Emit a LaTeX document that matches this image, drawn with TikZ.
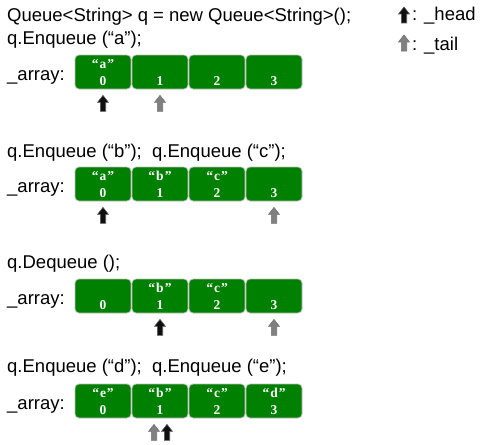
\documentclass[tikz,border=0pt]{standalone}
\usepackage{fontspec}
\setmainfont{Liberation Sans}
\newfontfamily\cellfont{Liberation Serif}
\usetikzlibrary{calc}
\definecolor{cellgreen}{RGB}{0,128,0}
\definecolor{cellborder}{RGB}{190,190,190}
\definecolor{tailgray}{RGB}{128,128,128}
\definecolor{headblack}{RGB}{15,15,15}
\newcommand\qv[1]{“\kern1pt#1\kern1pt”}
\newcommand\qrowcells[6]{%
  \foreach \i/\v in {0/{#3},1/{#4},2/{#5},3/{#6}} {%
    \node[cell] (#1c\i) at (103+57*\i,#2+17) {};
    \node[val] (#1v\i) at (103+57*\i,#2+13) {\v};
    \node[val] (#1n\i) at (103+57*\i,#2+30) {\i};
  }%
}
\begin{document}
\begin{tikzpicture}[x=1pt,y=-1pt,
  code/.style={anchor=base west,inner sep=0pt,font=\fontsize{18.5}{20}\selectfont},
  cell/.style={draw=cellborder,line width=0.8pt,fill=cellgreen,rounded corners=4pt,
    minimum width=56pt,minimum height=34pt,inner sep=0pt},
  val/.style={anchor=base,inner sep=0pt,text=white,font=\cellfont\bfseries\fontsize{13.5}{14}\selectfont},
  blockarrow/.style={line width=0.6pt,line join=miter},
  pics/headptr/.style={code={\draw[blockarrow,fill=headblack,draw=black!65]
    (-2.7,0) -- (-2.7,-9) -- (-5.5,-9) -- (0,-16) -- (5.5,-9) -- (2.7,-9) -- (2.7,0) -- cycle;}},
  pics/tailptr/.style={code={\draw[blockarrow,fill=tailgray,draw=black!55]
    (-2.7,0) -- (-2.7,-9) -- (-5.5,-9) -- (0,-16) -- (5.5,-9) -- (2.7,-9) -- (2.7,0) -- cycle;}},
]
\useasboundingbox (0,0) rectangle (494,444);

% legend
\pic (lh) at (404,23) {headptr};
\node[code] (lht) at (412,21) {: \_head};
\pic (lt) at (404,51) {tailptr};
\node[code] (ltt) at (412,50) {: \_tail};

% row 1
\node[code] (t0) at (7,22) {Queue<String> q = new Queue<String>();};
\node[code] (t1) at (7,45) {q.Enqueue (“a”);};
\node[code] (a1) at (7,80) {\_array:};
\qrowcells{ra}{55}{\qv{a}}{}{}{}
\pic (rah) at ($(rac0.south)+(0,22)$) {headptr};
\pic (rat) at ($(rac1.south)+(0,22)$) {tailptr};

% row 2
\node[code] (t2) at (7,157) {q.Enqueue (“b”);~ q.Enqueue (“c”);};
\node[code] (a2) at (7,192) {\_array:};
\qrowcells{rb}{167}{\qv{a}}{\qv{b}}{\qv{c}}{}
\pic (rbh) at ($(rbc0.south)+(0,22)$) {headptr};
\pic (rbt) at ($(rbc3.south)+(0,22)$) {tailptr};

% row 3
\node[code] (t3) at (7,268) {q.Dequeue ();};
\node[code] (a3) at (7,304) {\_array:};
\qrowcells{rc}{279}{}{\qv{b}}{\qv{c}}{}
\pic (rch) at ($(rcc1.south)+(0,22)$) {headptr};
\pic (rct) at ($(rcc3.south)+(0,22)$) {tailptr};

% row 4
\node[code] (t4) at (7,372) {q.Enqueue (“d”);~ q.Enqueue (“e”);};
\node[code] (a4) at (7,409) {\_array:};
\qrowcells{rd}{384}{\qv{e}}{\qv{b}}{\qv{c}}{\qv{d}}
\pic (rdt) at ($(rdc1.south)+(-6,22)$) {tailptr};
\pic (rdh) at ($(rdc1.south)+(7,22)$) {headptr};
\end{tikzpicture}
\end{document}
